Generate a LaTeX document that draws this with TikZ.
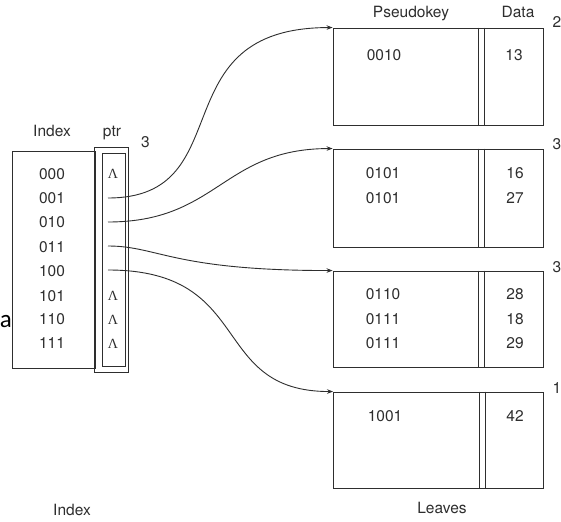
\documentclass[tikz,border=0pt]{standalone}
\usepackage{fontspec}
\setmainfont{TeX Gyre Heros}
\newfontfamily\grserif{Liberation Serif}
\newfontfamily\calib{Carlito}
\usetikzlibrary{arrows.meta}
\definecolor{ink}{HTML}{2E2E2E}
\begin{document}
\begin{tikzpicture}[x=1pt,y=-1pt,
  box/.style={draw=ink, line width=0.9pt, inner sep=0, minimum width=#1},
  leaf/.style={draw=ink, line width=0.9pt, inner sep=0, minimum width=210pt, minimum height=97pt},
  ln/.style={draw=ink, line width=0.9pt},
  arr/.style={draw=ink, line width=0.9pt, -{Stealth[length=6pt,width=4.5pt]}},
  txt/.style={font=\fontsize{15.5}{15.5}\selectfont, text=ink, inner sep=0},
  lam/.style={font=\grserif\fontsize{14}{14}\selectfont, text=ink, inner sep=0}]
\useasboundingbox (0,0) rectangle (561,521);
\fill[white] (0,0) rectangle (561,521);

% index and pointer boxes
\node[box=83pt, minimum height=217pt] (idx) at (54,259.5) {};
\node[box=34pt, minimum height=225pt] (pout) at (111,259.5) {};
\node[box=23pt, minimum height=213pt] (pin) at (113.5,259.5) {};

\node[txt, anchor=base] (hidx) at (52,136.7) {Index};
\node[txt, anchor=base] (hptr) at (112,136.7) {ptr};
\node[txt, anchor=base] (hthree) at (145.5,148) {3};

\foreach \k/\lab/\y in {0/000/174,1/001/198,2/010/222,3/011/247,4/100/271,5/101/296,6/110/319.5,7/111/343.5}{
  \node[txt] (r\k) at (52,\y) {\lab};
}
\foreach \k/\y in {0/174,5/296,6/319.5,7/343.5}{
  \node[lam] (l\k) at (113,\y) {Λ};
}

\coordinate (p1) at (108,198);
\coordinate (p2) at (108,222);
\coordinate (p3) at (108,246);
\coordinate (p4) at (108,270);

% leaves
\node[leaf] (b1) at (438,76.5) {};
\node[leaf, minimum height=98pt] (b2) at (438,198) {};
\node[leaf, minimum height=96pt] (b3) at (438,319) {};
\node[leaf, minimum height=96pt] (b4) at (438.5,440) {};
\foreach \b in {b1,b2,b3,b4}{
  \draw[ln] ([xshift=146pt]\b.north west) -- ([xshift=146pt]\b.south west);
  \draw[ln] ([xshift=152pt]\b.north west) -- ([xshift=152pt]\b.south west);
}

\node[txt, anchor=base] (hpk) at (411,18) {Pseudokey};
\node[txt, anchor=base] (hdata) at (518,18) {Data};

\node[txt] (k1) at (384,55) {0010};
\node[txt] (d1) at (514,55) {13};
\node[txt] (k2a) at (383,173.5) {0101};
\node[txt] (d2a) at (515,173.5) {16};
\node[txt] (k2b) at (383,198.5) {0101};
\node[txt] (d2b) at (515,198.5) {27};
\node[txt] (k3a) at (383,294.5) {0110};
\node[txt] (d3a) at (515,294.5) {28};
\node[txt] (k3b) at (383,319) {0111};
\node[txt] (d3b) at (515,319) {18};
\node[txt] (k3c) at (383,343.5) {0111};
\node[txt] (d3c) at (515,343.5) {29};
\node[txt] (k4) at (385,416) {1001};
\node[txt] (d4) at (515,416) {42};

\node[txt, anchor=base] (hleaves) at (442,513) {Leaves};
\node[txt, anchor=base] (hindex2) at (72,515) {Index};

% numbers at right edge
\node[txt, anchor=base west] (e1) at (552.5,28) {2};
\node[txt, anchor=base west] (e2) at (552.5,150) {3};
\node[txt, anchor=base west] (e3) at (552.5,272) {3};
\node[txt, anchor=base west] (e4) at (552.5,393) {1};

% stray letter at left edge
\node[font=\calib\fontsize{25}{25}\selectfont, text=black, inner sep=0, anchor=base west] (stray) at (-0.3,327) {a};

% pointers
\draw[arr] (p1) .. controls +(135,0) and +(-175,0) .. (b1.north west);
\draw[arr] (p2) .. controls +(110,0) and +(-110,0) .. (b2.north west);
\draw[arr] (p3) .. controls +(50,0) and +(-160,0) .. (b3.north west);
\draw[arr] (p4) .. controls +(148,0) and +(-125,0) .. (b4.north west);
\end{tikzpicture}
\end{document}
